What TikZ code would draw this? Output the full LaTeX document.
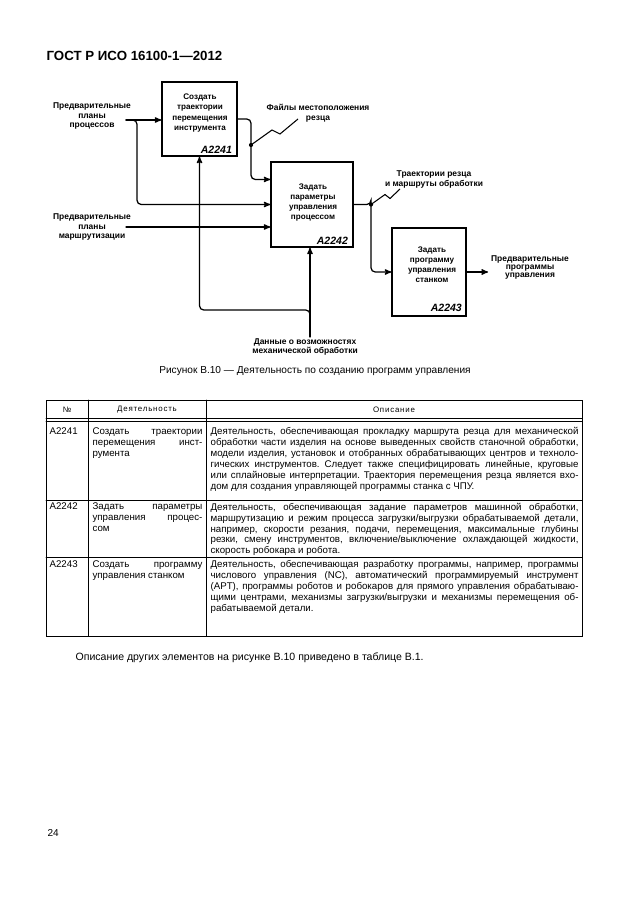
\documentclass[tikz,border=0pt]{standalone}
\usepackage{fontspec}
\setmainfont{Liberation Sans}
\newfontfamily\spacedfont[LetterSpace=10]{Liberation Sans}
\usetikzlibrary{%
  arrows,%
  positioning,% wg. " of "
  calc%
}

\newcommand{\dline}[1]{\makebox[122.6mm][s]{#1}}
\newcommand{\aline}[1]{\makebox[36.6mm][s]{#1}}
\frenchspacing

\begin{document}
\begin{tikzpicture}[
  x=0.3333mm, y=-0.3333mm,
  >=stealth', line width=1.2pt, line cap=round,
  box/.style={draw=black, line width=1.3pt, inner sep=0pt},
  boxtext/.style={align=center, inner sep=0pt, font=\fontsize{7.7}{9.5}\selectfont\bfseries},
  boxid/.style={inner sep=0pt, font=\fontsize{10}{12}\selectfont\bfseries\itshape},
  lbl/.style={align=center, inner sep=0pt, font=\fontsize{8}{9.3}\selectfont\bfseries},
  flow/.style={->, rounded corners=4pt},
  zig/.style={line width=1pt, line cap=butt},
  grid/.style={line width=0.6pt},
  hdr/.style={inner sep=0pt, font=\fontsize{7.5}{9}\spacedfont},
  cell/.style={anchor=north west, align=left, inner sep=0pt, font=\fontsize{9.2}{10.3}\selectfont}
]
\useasboundingbox (0,0) rectangle (630,913);

\node[anchor=west, inner sep=0pt, font=\fontsize{12.6}{14}\selectfont\bfseries] (title) at (46,56) {ГОСТ Р ИСО 16100-1—2012};

% activity boxes
\node[box, minimum width=25mm, minimum height=24.67mm] (a1) at (199.5,119) {};
\node[box, minimum width=27.33mm, minimum height=28.33mm] (a2) at (312,204.5) {};
\node[box, minimum width=24.67mm, minimum height=29.33mm] (a3) at (429,272) {};

\node[boxtext] (a1-t) at (200,113) {Создать\\траектории\\перемещения\\инструмента};
\node[boxtext] (a2-t) at (313,202.5) {Задать\\параметры\\управления\\процессом};
\node[boxtext] (a3-t) at (432,265) {Задать\\программу\\управления\\станком};

\node[boxid, above left=1mm and 1.7mm of a1.south east] (a1-id) {A2241};
\node[boxid, above left=1mm and 1.7mm of a2.south east] (a2-id) {A2242};
\node[boxid, above left=1.5mm and 1.4mm of a3.south east] (a3-id) {A2243};

% arrow labels
\node[lbl] (pp) at (92,116) {Предварительные\\планы\\процессов};
\node[lbl] (pm) at (92,227) {Предварительные\\планы\\маршрутизации};
\node[lbl] (fl) at (318,113.5) {Файлы местоположения\\резца};
\node[lbl] (tr) at (434,179.5) {Траектории резца\\и маршруты обработки};
\node[lbl, font=\fontsize{8}{8}\selectfont\bfseries] (pu) at (530,267.5) {Предварительные\\программы\\управления};
\node[lbl] (dm) at (305,347) {Данные о возможностях\\механической обработки};

\coordinate (pp-e) at (126,120);
\coordinate (pm-e) at (126,227);
\coordinate (j1) at (137,120);
\coordinate (j2) at (251,145);
\coordinate (j3) at (371,204.5);
\coordinate (j4) at (310,310);
\coordinate (fl-a) at (298,119);
\coordinate (tr-a) at (400,189);
\coordinate (pu-w) at (488,272);
\coordinate (dm-n) at (310,337);

\draw[->] (pp-e) -- (pp-e -| a1.west);
\draw[flow] (pp-e) -| (j1 |- a2.west) -- (a2.west);
\draw[->] (pm-e) -- (pm-e -| a2.west);
\draw[flow] (a1.east) -| (j2) |- ($(a2.north west)!0.21!(a2.south west)$);
\draw[flow] (a2.east) -| (j3) |- (a3.west);
\draw[->] (a3.east) -- (pu-w);
\draw[->] (dm-n) -- (dm-n |- a2.south);
\draw[flow] ($(dm-n)+(0,-20)$) -- (j4) -| (a1.south);

\fill (j2) circle (0.7mm);
\fill (j3) circle (0.7mm);
\draw[zig] (j2) -- ++(21,-15) -- ++(8,4) -- (fl-a);
\draw[zig] (j3) -- ++(14,-10) -- ++(5,4) -- (tr-a);

\node[inner sep=0pt, font=\fontsize{9.6}{11}\selectfont] (cap) at (315,371) {Рисунок В.10 — Деятельность по созданию программ управления};

% table
\draw[grid] (46,400) rectangle (582,636);
\draw[grid] (46,418) -- (582,418);
\draw[grid] (46,421) -- (582,421);
\draw[grid] (46,500) -- (582,500);
\draw[grid] (46,557.5) -- (582,557.5);
\draw[grid] (88,400) -- (88,636);
\draw[grid] (206,400) -- (206,636);

\node[hdr] (h1) at (67,410) {№};
\node[hdr] (h2) at (147,410) {Деятельность};
\node[hdr] (h3) at (394,410) {Описание};

\node[cell] (n1) at (49,427) {A2241};
\node[cell] (s1) at (92,427) {\aline{Создать траектории}\\\aline{перемещения инст-}\\румента};
\node[cell] (d1) at (210,427) {%
  \dline{Деятельность, обеспечивающая прокладку маршрута резца для механической}\\
  \dline{обработки части изделия на основе выведенных свойств станочной обработки,}\\
  \dline{модели изделия, установок и отобранных обрабатывающих центров и техноло-}\\
  \dline{гических инструментов. Следует также специфицировать линейные, круговые}\\
  \dline{или сплайновые интерпретации. Траектория перемещения резца является вхо-}\\
  дом для создания управляющей программы станка с ЧПУ.};

\node[cell] (n2) at (49,502.5) {A2242};
\node[cell] (s2) at (92,502.5) {\aline{Задать параметры}\\\aline{управления процес-}\\сом};
\node[cell] (d2) at (210,502.5) {%
  \dline{Деятельность, обеспечивающая задание параметров машинной обработки,}\\
  \dline{маршрутизацию и режим процесса загрузки/выгрузки обрабатываемой детали,}\\
  \dline{например, скорости резания, подачи, перемещения, максимальные глубины}\\
  \dline{резки, смену инструментов, включение/выключение охлаждающей жидкости,}\\
  скорость робокара и робота.};

\node[cell] (n3) at (49,560) {A2243};
\node[cell] (s3) at (92,560) {\aline{Создать программу}\\управления станком};
\node[cell] (d3) at (210,560) {%
  \dline{Деятельность, обеспечивающая разработку программы, например, программы}\\
  \dline{числового управления (NC), автоматический программируемый инструмент}\\
  \dline{(APT), программы роботов и робокаров для прямого управления обрабатываю-}\\
  \dline{щими центрами, механизмы загрузки/выгрузки и механизмы перемещения об-}\\
  рабатываемой детали.};

\node[anchor=west, inner sep=0pt, font=\fontsize{10}{12}\selectfont] (note) at (75,658) {Описание других элементов на рисунке В.10 приведено в таблице В.1.};
\node[anchor=west, inner sep=0pt, font=\fontsize{9.5}{11}\selectfont] (page) at (47,833) {24};
\end{tikzpicture}
\end{document}
